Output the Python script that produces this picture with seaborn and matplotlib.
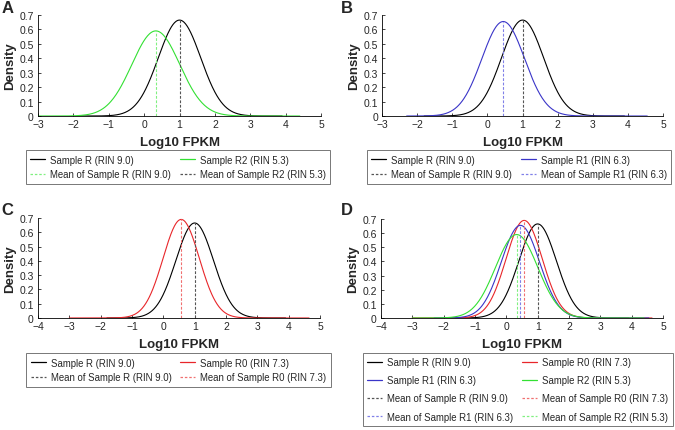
import numpy as np
import pandas as pd
import seaborn as sns
import matplotlib.pyplot as plt
from matplotlib.lines import Line2D

sns.set_style("white")
plt.rcParams['font.family'] = ['Liberation Sans', 'DejaVu Sans']

# fitted normal densities of log10 FPKM
samples = ["Sample R (RIN 9.0)", "Sample R0 (RIN 7.3)", "Sample R1 (RIN 6.3)", "Sample R2 (RIN 5.3)"]
means = [1.00, 0.57, 0.45, 0.33]
peaks = [0.665, 0.690, 0.655, 0.590]
x_min = [-1.8, -3.0, -2.3, -3.0]
x_max = [3.9, 4.65, 4.55, 4.4]
colors = ["#000000", "#e8262a", "#3a35c8", "#33e033"]
mean_colors = ["#555555", "#f07070", "#8080e8", "#80f080"]

panels = ["A", "B", "C", "D"]
panel_samples = [[0, 3], [0, 2], [0, 1], [0, 1, 2, 3]]
panel_xlim = [(-3, 5), (-3, 5), (-4, 5), (-4, 5)]

frames = []
for name, mu, pk, lo, hi in zip(samples, means, peaks, x_min, x_max):
    sd = 1.0 / (np.sqrt(2 * np.pi) * pk)
    xs = np.linspace(lo, hi, 400)
    frames.append(pd.DataFrame({"x": xs,
                                "density": np.exp(-0.5 * ((xs - mu) / sd) ** 2) / (sd * np.sqrt(2 * np.pi)),
                                "sample": name}))
curves = pd.concat(frames, ignore_index=True)

fig = plt.figure(figsize=(6.75, 4.31), dpi=100)
axes_pos = [[0.0563, 0.7285, 0.4193, 0.2343],
            [0.5660, 0.7285, 0.4163, 0.2343],
            [0.0563, 0.2599, 0.4178, 0.2320],
            [0.5644, 0.2599, 0.4178, 0.2297]]
legend_pos = [(0.2637, 0.6490), (0.7690, 0.6490), (0.2644, 0.1780), (0.7670, 0.1790)]
letter_pos = [(0.002, 0.997), (0.505, 0.997), (0.002, 0.528), (0.505, 0.528)]

for k, letter in enumerate(panels):
    ax = fig.add_axes(axes_pos[k])
    idx = panel_samples[k]
    sub = curves[curves["sample"].isin([samples[i] for i in idx])]
    sns.lineplot(data=sub, x="x", y="density", hue="sample",
                 palette={samples[i]: colors[i] for i in idx},
                 hue_order=[samples[i] for i in idx],
                 linewidth=0.8, legend=False, ax=ax, sort=False)
    for i in idx:
        ax.vlines(means[i], 0, peaks[i], colors=mean_colors[i],
                  linestyles=(0, (2.5, 1.5)), linewidth=0.8)
    ax.set_xlim(*panel_xlim[k])
    ax.set_ylim(0, 0.7)
    ax.set_xticks(range(panel_xlim[k][0], 6))
    ax.set_yticks(np.arange(0, 0.71, 0.1))
    ax.set_yticklabels(["0"] + [f"{v:.1f}" for v in np.arange(0.1, 0.71, 0.1)])
    ax.set_xlabel("Log10 FPKM", fontsize=9.5, fontweight="bold", labelpad=5)
    ax.set_ylabel("Density", fontsize=9.5, fontweight="bold", labelpad=2)
    ax.tick_params(direction="in", length=2.5, width=0.6, labelsize=7.5, pad=2,
                   left=True, bottom=True)
    ax.tick_params(axis="y", pad=3)
    sns.despine(ax=ax)
    for s in ["left", "bottom"]:
        ax.spines[s].set_color("black")
        ax.spines[s].set_linewidth(0.6)
    fig.text(*letter_pos[k], letter, fontsize=12, fontweight="bold", va="top", ha="left")

    # legend (the panel A mean colours are swapped in the original)
    solid = [Line2D([], [], color=colors[i], lw=0.9) for i in idx]
    if letter == "A":
        dashed_cols = [mean_colors[3], mean_colors[0]]
    else:
        dashed_cols = [mean_colors[i] for i in idx]
    dashed = [Line2D([], [], color=c, lw=0.9, ls=(0, (2, 1.5))) for c in dashed_cols]
    sol_lab = [samples[i] for i in idx]
    mean_lab = ["Mean of " + samples[i] for i in idx]
    if len(idx) == 2:
        handles = [solid[0], dashed[0], solid[1], dashed[1]]
        labels = [sol_lab[0], mean_lab[0], sol_lab[1], mean_lab[1]]
        spacing = 0.5
    else:
        handles = [solid[0], solid[2], dashed[0], dashed[2], solid[1], solid[3], dashed[1], dashed[3]]
        labels = [sol_lab[0], sol_lab[2], mean_lab[0], mean_lab[2],
                  sol_lab[1], sol_lab[3], mean_lab[1], mean_lab[3]]
        spacing = 0.85
    leg = fig.legend(handles, labels, ncol=2, loc="upper center", bbox_to_anchor=legend_pos[k],
                     fontsize=6.9, frameon=True, fancybox=False, handlelength=1.6,
                     handletextpad=0.5, columnspacing=0.9, labelspacing=spacing,
                     borderpad=0.45, borderaxespad=0)
    leg.get_frame().set_edgecolor("#555555")
    leg.get_frame().set_linewidth(0.7)

fig.savefig("out.png", dpi=100)
